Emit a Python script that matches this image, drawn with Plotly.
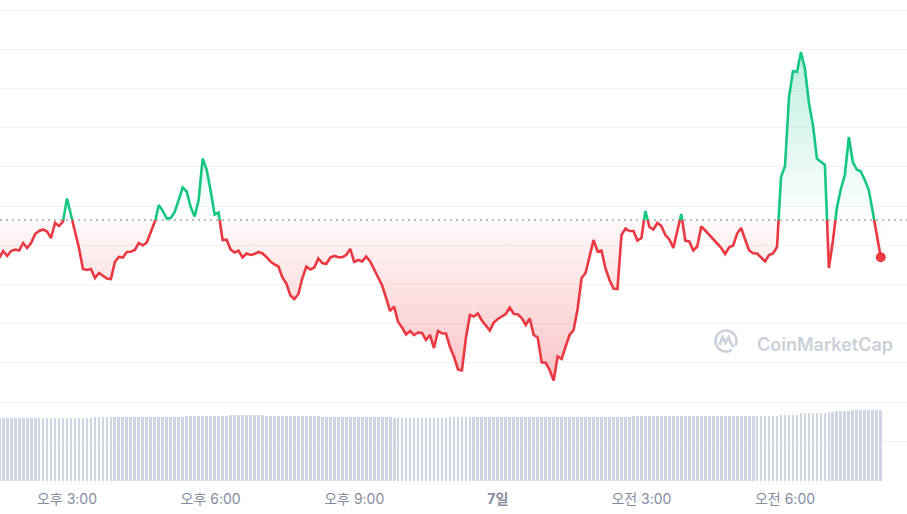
import numpy as np
import pandas as pd
import plotly.graph_objects as go

# ---------------- data ----------------
start_time = "2024-03-06 13:35"
interval = "5min"

prices = [
    2.420, 2.490, 2.440, 2.490, 2.505, 2.495, 2.570, 2.520, 2.570, 2.660,
    2.690, 2.705, 2.685, 2.620, 2.770, 2.740, 2.785, 3.015, 2.850, 2.680,
    2.520, 2.310, 2.300, 2.310, 2.220, 2.270, 2.240, 2.215, 2.210, 2.380,
    2.430, 2.425, 2.480, 2.483, 2.500, 2.570, 2.545, 2.575, 2.680, 2.770,
    2.950, 2.890, 2.815, 2.820, 2.880, 3.000, 3.125, 3.085, 2.930, 2.835,
    3.000, 3.415, 3.305, 3.095, 2.855, 2.875, 2.600, 2.603, 2.505, 2.475,
    2.493, 2.425, 2.465, 2.450, 2.460, 2.480, 2.465, 2.430, 2.385, 2.355,
    2.335, 2.225, 2.165, 2.045, 2.010, 2.060, 2.220, 2.335, 2.305, 2.325,
    2.415, 2.370, 2.360, 2.425, 2.440, 2.427, 2.427, 2.450, 2.510, 2.380,
    2.400, 2.385, 2.435, 2.385, 2.310, 2.230, 2.145, 2.020, 1.890, 1.935,
    1.780, 1.725, 1.655, 1.690, 1.650, 1.675, 1.670, 1.600, 1.650, 1.520,
    1.690, 1.667, 1.665, 1.530, 1.435, 1.305, 1.295, 1.620, 1.850, 1.835,
    1.865, 1.795, 1.745, 1.695, 1.775, 1.810, 1.835, 1.860, 1.925, 1.860,
    1.858, 1.820, 1.750, 1.815, 1.650, 1.625, 1.377, 1.372, 1.300, 1.195,
    1.435, 1.410, 1.535, 1.650, 1.700, 1.910, 2.220, 2.270, 2.435, 2.600,
    2.485, 2.495, 2.315, 2.200, 2.115, 2.110, 2.650, 2.715, 2.690, 2.690,
    2.595, 2.620, 2.890, 2.730, 2.705, 2.770, 2.740, 2.650, 2.605, 2.520,
    2.690, 2.860, 2.593, 2.585, 2.495, 2.535, 2.735, 2.695, 2.655, 2.615,
    2.565, 2.520, 2.460, 2.527, 2.545, 2.665, 2.720, 2.605, 2.495, 2.467,
    2.465, 2.425, 2.385, 2.450, 2.465, 2.530, 3.230, 3.340, 4.030, 4.290,
    4.280, 4.480, 4.310, 3.970, 3.750, 3.415, 3.380, 3.350, 2.320, 2.590,
    2.920, 3.110, 3.250, 3.630, 3.380, 3.305, 3.285, 3.200, 3.100, 2.880,
    2.650, 2.427,
]

volumes = [
    63.3, 63.3, 63.3, 63.3, 63.3, 63.3, 63.3, 63.3, 63.3, 63.3,
    63.3, 63.3, 63.3, 63.3, 63.3, 63.3, 63.3, 63.3, 63.3, 63.3,
    63.3, 63.3, 63.3, 63.3, 64.3, 64.3, 64.3, 64.3, 64.3, 64.3,
    64.3, 64.3, 64.3, 64.3, 64.3, 64.3, 64.3, 64.3, 64.3, 64.3,
    64.3, 64.3, 64.3, 64.3, 64.3, 64.3, 64.3, 65.3, 65.3, 65.3,
    65.3, 65.3, 65.3, 65.3, 65.3, 65.3, 65.3, 65.3, 66.3, 66.3,
    66.3, 66.3, 66.3, 66.3, 66.3, 66.3, 66.3, 65.0, 65.0, 65.0,
    65.0, 65.0, 65.0, 65.0, 65.0, 65.0, 65.0, 65.0, 65.0, 65.0,
    65.0, 64.0, 64.0, 64.0, 64.0, 64.0, 64.0, 64.0, 64.0, 64.0,
    64.0, 64.0, 64.0, 64.0, 64.0, 64.0, 64.0, 64.0, 64.0, 63.0,
    63.0, 63.0, 63.0, 63.0, 63.0, 63.0, 63.0, 63.0, 63.0, 63.0,
    63.0, 63.0, 63.0, 63.7, 63.7, 63.7, 63.7, 63.7, 63.7, 63.7,
    64.3, 64.3, 64.3, 64.3, 64.3, 64.3, 64.3, 64.3, 64.3, 64.3,
    64.3, 64.3, 64.3, 64.3, 64.3, 64.3, 64.3, 64.3, 64.3, 64.3,
    64.3, 64.3, 64.3, 64.3, 64.3, 64.3, 64.3, 64.3, 64.3, 64.3,
    64.3, 64.3, 64.3, 64.3, 64.3, 64.3, 64.3, 64.3, 64.3, 65.0,
    65.0, 65.0, 65.0, 65.0, 65.0, 65.0, 65.0, 65.0, 65.0, 65.0,
    65.0, 65.0, 65.0, 65.0, 65.0, 65.0, 65.0, 65.0, 65.0, 65.0,
    65.0, 65.0, 65.0, 65.0, 65.0, 65.0, 65.0, 65.0, 65.0, 65.0,
    65.0, 65.0, 65.0, 65.0, 65.0, 65.0, 66.0, 66.0, 66.0, 66.0,
    66.0, 67.7, 67.7, 67.7, 67.7, 67.7, 67.7, 67.7, 69.0, 69.0,
    70.0, 70.0, 70.0, 70.0, 71.0, 71.0, 71.0, 71.0, 71.0, 71.0,
    71.0, 71.0,
]

open_price = 2.80

tick_vals = ["2024-03-06 15:00", "2024-03-06 18:00", "2024-03-06 21:00",
             "2024-03-07 00:00", "2024-03-07 03:00", "2024-03-07 06:00"]
tick_text = ["오후 3:00", "오후 6:00", "오후 9:00", "<b>7일</b>", "오전 3:00", "오전 6:00"]

x_range = ["2024-03-06 13:36:00", "2024-03-07 08:32:54"]
price_range = [0.19, 5.00]
volume_axis_max = 481

RED = "#ea3943"
GREEN = "#16c784"
VOL = "#cfd6e4"
GRID = "#f2f3f5"
TICK = "#858ca0"
MARK = "#cbd0d9"

# ---------------- build series ----------------
times = pd.date_range(start_time, periods=len(prices), freq=interval)
tn = times.asi8.astype(float)
p = np.array(prices, dtype=float)
b = open_price

ta, va = [], []
for i in range(len(p)):
    ta.append(tn[i]); va.append(p[i])
    if i < len(p) - 1 and (p[i] - b) * (p[i + 1] - b) < 0:
        f = (b - p[i]) / (p[i + 1] - p[i])
        ta.append(tn[i] + f * (tn[i + 1] - tn[i])); va.append(b)
ta = pd.to_datetime(np.array(ta).astype("int64"))
va = np.array(va)

upper = np.maximum(va, b)
lower = np.minimum(va, b)
green_line = [v if v >= b else None for v in va]
red_line = [v if v <= b else None for v in va]
base = [b] * len(va)

fig = go.Figure()

# green fill (above open)
fig.add_trace(go.Scatter(x=ta, y=base, mode="lines", line=dict(width=0),
                         hoverinfo="skip", showlegend=False))
fig.add_trace(go.Scatter(
    x=ta, y=upper, mode="lines", line=dict(width=0), fill="tonexty",
    fillgradient=dict(type="vertical", start=b, stop=float(p.max()),
                      colorscale=[[0, "rgba(22,199,132,0.0)"], [1, "rgba(22,199,132,0.28)"]]),
    hoverinfo="skip", showlegend=False))
# red fill (below open)
fig.add_trace(go.Scatter(x=ta, y=base, mode="lines", line=dict(width=0),
                         hoverinfo="skip", showlegend=False))
fig.add_trace(go.Scatter(
    x=ta, y=lower, mode="lines", line=dict(width=0), fill="tonexty",
    fillgradient=dict(type="vertical", start=float(p.min()), stop=b,
                      colorscale=[[0, "rgba(234,57,67,0.30)"], [1, "rgba(234,57,67,0.03)"]]),
    hoverinfo="skip", showlegend=False))

# volume bars
fig.add_trace(go.Bar(x=times, y=volumes, marker=dict(color=VOL, line=dict(width=0)),
                     width=5 * 60 * 1000 * 0.7, yaxis="y2", showlegend=False))

# lines
fig.add_trace(go.Scatter(x=ta, y=red_line, mode="lines",
                         line=dict(color=RED, width=2.6), connectgaps=False, showlegend=False))
fig.add_trace(go.Scatter(x=ta, y=green_line, mode="lines",
                         line=dict(color=GREEN, width=2.6), connectgaps=False, showlegend=False))
# last point
fig.add_trace(go.Scatter(x=[times[-1]], y=[prices[-1]], mode="markers",
                         marker=dict(color=RED, size=10), showlegend=False))

# dotted open-price line
fig.add_shape(type="line", xref="paper", x0=0, x1=1, yref="y", y0=b, y1=b,
              line=dict(color="#a3a7b0", width=1.5, dash="2px,4px"), layer="between")

# watermark logo
ang = np.linspace(np.deg2rad(-25), np.deg2rad(-55) + 2 * np.pi, 40)
r = 10.5
arc = "M" + " L".join(f"{r*np.cos(a):.2f},{r*np.sin(a):.2f}" for a in ang)
m_path = "M-6.5,-4 L-3.5,4 L-0.5,-2 L2.5,4 L4.8,-2.5 L8.2,-6.2"
for path in (arc, m_path):
    fig.add_shape(type="path", xref="paper", yref="paper",
                  xsizemode="pixel", ysizemode="pixel",
                  xanchor=726 / 907, yanchor=(481 - 341) / 481,
                  path=path, line=dict(color=MARK, width=2.6))
fig.add_annotation(text="CoinMarketCap", xref="paper", yref="paper",
                   x=755 / 907, y=(481 - 344) / 481, xanchor="left", yanchor="middle",
                   showarrow=False,
                   font=dict(size=18, color=MARK, family="Inter, 'Noto Sans', sans-serif",
                             weight=600))

fig.update_layout(
    width=907, height=514,
    margin=dict(l=0, r=0, t=0, b=33),
    paper_bgcolor="white", plot_bgcolor="white",
    showlegend=False, hovermode=False,
    font=dict(family="Inter, 'Noto Sans CJK KR', sans-serif"),
    xaxis=dict(type="date", range=x_range, showgrid=False, zeroline=False,
               showline=False, ticks="", tickvals=tick_vals, ticktext=tick_text,
               ticklabelstandoff=8,
               tickfont=dict(size=14, color=TICK)),
    yaxis=dict(range=price_range, showticklabels=False, ticks="",
               showgrid=True, gridcolor=GRID, gridwidth=1,
               tick0=0.196, dtick=0.392, zeroline=False, showline=False),
    yaxis2=dict(range=[0, volume_axis_max], overlaying="y", visible=False),
    bargap=0,
)

fig.write_html("out.html", config={"displayModeBar": False},
               post_script="document.body.style.margin='0';document.body.style.overflow='hidden';")
